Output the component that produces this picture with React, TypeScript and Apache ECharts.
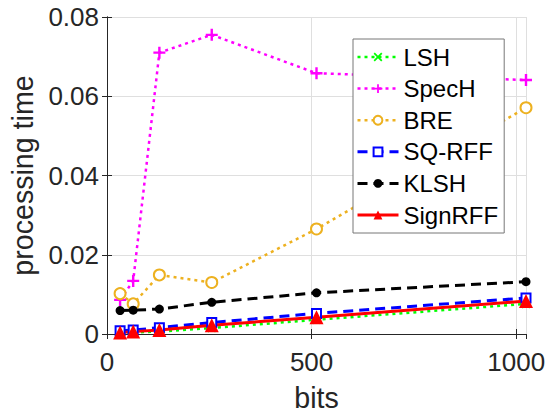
import React, { useEffect, useRef } from "react";
import * as echarts from "echarts";

const bits = [32, 64, 128, 256, 512, 1024];
const lsh = [0.0003, 0.0004, 0.0006, 0.0015, 0.0036, 0.0076];
const specH = [0.0086, 0.0134, 0.0710, 0.0755, 0.0658, 0.0641];
const bre = [0.0102, 0.0076, 0.0149, 0.0130, 0.0265, 0.0571];
const sqRff = [0.0008, 0.0010, 0.0016, 0.0029, 0.0052, 0.0091];
const klsh = [0.0059, 0.0060, 0.0063, 0.0080, 0.0104, 0.0132];
const signRff = [0.0004, 0.0006, 0.0010, 0.0022, 0.0042, 0.0083];
const xTicks = [0, 500, 1000];
const yTicks = [0, 0.02, 0.04, 0.06, 0.08];

const FONT = "Liberation Sans, Arial, Helvetica, sans-serif";
const AX = "#262626";

const PLUS = "path://M4,0 L6,0 L6,4 L10,4 L10,6 L6,6 L6,10 L4,10 L4,6 L0,6 L0,4 L4,4 Z";
const CROSS = "path://M0,1.4 L1.4,0 L5,3.6 L8.6,0 L10,1.4 L6.4,5 L10,8.6 L8.6,10 L5,6.4 L1.4,10 L0,8.6 L3.6,5 Z";

export default function App() {
  const ref = useRef<HTMLDivElement>(null);
  useEffect(() => {
    if (!ref.current) return;
    const chart = echarts.init(ref.current, null, { renderer: "svg" });
    const mk = (arr: number[]) => bits.map((b, i) => [b, arr[i]]);
    const defs = [
      { name: "LSH", data: mk(lsh), color: "#00ff00", type: [3, 4], width: 2.5, symbol: CROSS, size: 9, border: 0 },
      { name: "SpecH", data: mk(specH), color: "#ff00ff", type: [3, 4], width: 2.5, symbol: PLUS, size: 12, border: 0 },
      { name: "BRE", data: mk(bre), color: "#EDB120", type: [3, 4], width: 2.5, symbol: "emptyCircle", size: 11, border: 2.5 },
      { name: "SQ-RFF", data: mk(sqRff), color: "#0000ff", type: [10, 6], width: 3, symbol: "emptyRect", size: 9, border: 3 },
      { name: "KLSH", data: mk(klsh), color: "#000000", type: [10, 6], width: 3, symbol: "circle", size: 9, border: 0 },
      { name: "SignRFF", data: mk(signRff), color: "#ff0000", type: "solid", width: 3, symbol: "triangle", size: 14, border: 0 },
    ];
    const series = defs.map((s) => ({
      name: s.name,
      type: "line",
      data: s.data,
      symbol: s.symbol,
      symbolSize: s.size,
      showAllSymbol: true,
      lineStyle: { color: s.color, width: s.width, type: s.type as any },
      itemStyle: { color: s.color, borderColor: s.color, borderWidth: s.border },
      emphasis: { disabled: true },
    }));
    const gridLine = { show: true, lineStyle: { color: "#dfdfdf", width: 1 } };
    chart.setOption({
      animation: false,
      textStyle: { fontFamily: FONT },
      grid: { left: 107, right: 21, top: 17, bottom: 79, containLabel: false, outerBoundsMode: "none" },
      legend: {
        orient: "vertical",
        left: 353,
        top: 39,
        width: 152,
        padding: [6, 6, 6, 3],
        itemGap: 7.6,
        itemWidth: 41,
        itemHeight: 11,
        backgroundColor: "#ffffff",
        borderColor: "#777777",
        borderWidth: 1,
        textStyle: { fontSize: 24, color: "#000000", fontFamily: FONT, lineHeight: 24 },
        data: defs.map((s) => ({
          name: s.name,
          lineStyle: { color: s.color, width: s.width, type: s.type as any },
          itemStyle: { color: s.color, borderColor: s.color, borderWidth: s.border ? 2 : 0 },
        })),
      },
      xAxis: [
        {
          type: "value",
          min: 0,
          max: 1024,
          interval: 500,
          name: "bits",
          nameLocation: "middle",
          nameGap: 49,
          nameTextStyle: { fontSize: 28.6, color: AX, fontFamily: FONT },
          axisLine: { show: true, lineStyle: { color: AX, width: 1 } },
          axisTick: { show: true, inside: true, length: 5, lineStyle: { color: AX } },
          axisLabel: {
            fontSize: 26,
            color: AX,
            margin: 15,
            fontFamily: FONT,
            showMaxLabel: false,
            formatter: (v: number) => (xTicks.includes(v) ? String(v) : ""),
          },
          splitLine: gridLine,
        },
        {
          type: "value",
          position: "top",
          min: 0,
          max: 1024,
          interval: 500,
          axisLine: { show: true, lineStyle: { color: AX, width: 1 } },
          axisTick: { show: true, inside: true, length: 5, lineStyle: { color: AX } },
          axisLabel: { show: false },
          splitLine: { show: false },
        },
      ],
      yAxis: [
        {
          type: "value",
          min: 0,
          max: 0.08,
          interval: 0.02,
          name: "processing time",
          nameLocation: "middle",
          nameGap: 58,
          nameTextStyle: { fontSize: 28.6, color: AX, fontFamily: FONT },
          axisLine: { show: true, lineStyle: { color: AX, width: 1 } },
          axisTick: { show: true, inside: true, length: 5, lineStyle: { color: AX } },
          axisLabel: {
            fontSize: 26,
            color: AX,
            margin: 8,
            fontFamily: FONT,
            formatter: (v: number) => {
              const t = yTicks.find((y) => Math.abs(y - v) < 1e-9);
              return t === undefined ? "" : t === 0 ? "0" : t.toFixed(2);
            },
          },
          splitLine: gridLine,
        },
        {
          type: "value",
          position: "right",
          min: 0,
          max: 0.08,
          interval: 0.02,
          axisLine: { show: true, lineStyle: { color: AX, width: 1 } },
          axisTick: { show: true, inside: true, length: 5, lineStyle: { color: AX } },
          axisLabel: { show: false },
          splitLine: { show: false },
        },
      ],
      series,
    });
    return () => chart.dispose();
  }, []);
  return <div ref={ref} style={{ width: 547, height: 413, position: "absolute", left: 0, top: 0 }} />;
}
